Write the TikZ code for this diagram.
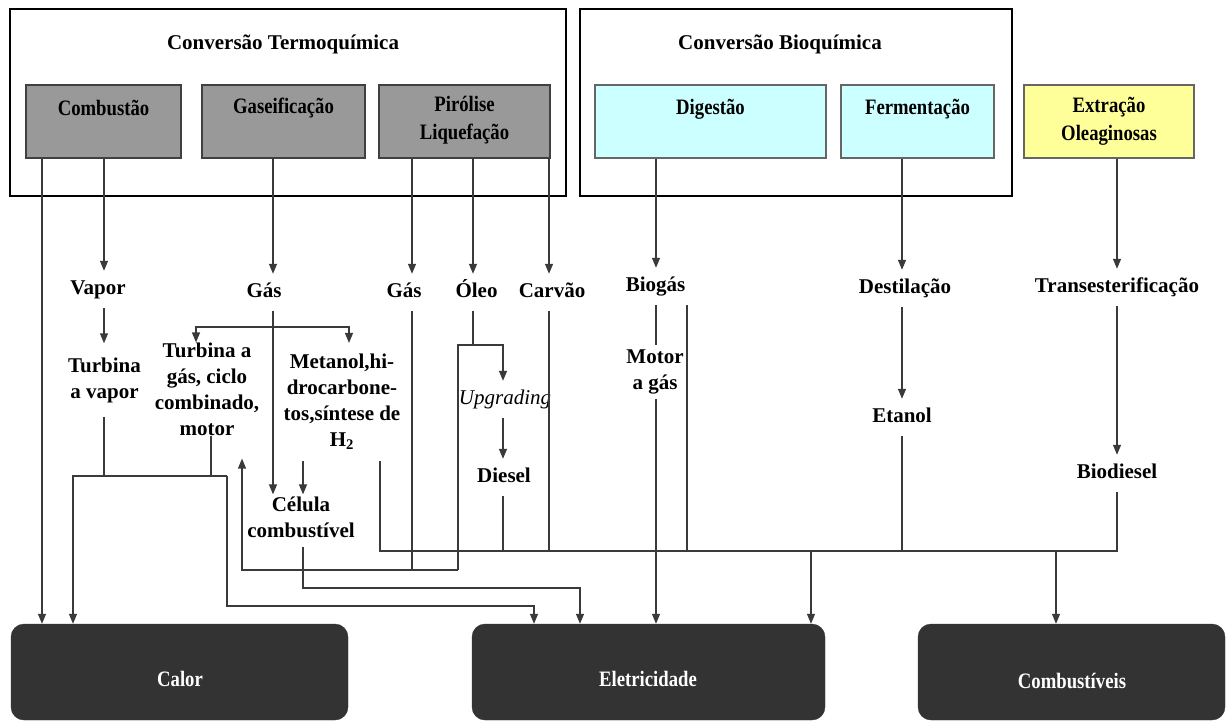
\documentclass[tikz,border=0pt]{standalone}
\usepackage{fontspec}
\setmainfont{Liberation Serif}
\newfontfamily\narrowserif[FakeStretch=0.85]{Liberation Serif}
\usetikzlibrary{arrows.meta}
\definecolor{procgray}{HTML}{999999}
\definecolor{biocyan}{HTML}{CCFFFF}
\definecolor{oilyellow}{HTML}{FFFF99}
\definecolor{enddark}{HTML}{333333}
\definecolor{wirecol}{HTML}{3A3A3A}

\begin{document}
\begin{tikzpicture}[x=1pt,y=-1pt,
  groupbox/.style={draw=black, line width=1.8pt, inner sep=0},
  procbox/.style={draw=black!75, line width=1.3pt, inner sep=0, minimum height=73pt},
  endbox/.style={fill=enddark, draw=enddark, rounded corners=13pt, inner sep=0, minimum height=96pt},
  grouptitle/.style={font=\fontsize{21}{26}\selectfont\bfseries, inner sep=0},
  boxlabel/.style={font=\narrowserif\fontsize{22}{28}\selectfont\bfseries, align=center, inner sep=0},
  endlabel/.style={font=\narrowserif\fontsize{22}{28}\selectfont\bfseries, text=white, inner sep=0},
  stage/.style={font=\fontsize{21}{26}\selectfont\bfseries, anchor=base, text height=14pt, text depth=5pt, inner xsep=1pt, inner ysep=9pt},
  stagelines/.style={font=\fontsize{21}{26}\selectfont\bfseries, align=center, inner xsep=1pt},
  wire/.style={draw=wirecol, line width=1.2pt},
  flow/.style={wire, -{Triangle[length=10pt,width=8pt]}},
]
\useasboundingbox (0,0) rectangle (1228,722);

% column positions of the vertical connectors
\foreach \cx in {42,104,196,211,273,303,349,412,473,503,549,656,687,811,902,1056,1117}
  {\coordinate (c\cx) at (\cx,0);}

% group frames
\node[groupbox, minimum width=556pt, minimum height=187pt] (termo) at (288,102.5) {};
\node[groupbox, minimum width=432pt, minimum height=187pt] (bio) at (796,102.5) {};
\node[grouptitle] (termoT) at (283,44) {Conversão Termoquímica};
\node[grouptitle] (bioT) at (780,44) {Conversão Bioquímica};

% conversion processes
\node[procbox, fill=procgray, minimum width=155pt] (comb) at (103.5,121.5) {};
\node[procbox, fill=procgray, minimum width=163pt] (gasif) at (283.5,121.5) {};
\node[procbox, fill=procgray, minimum width=171pt] (piro) at (464.5,121.5) {};
\node[procbox, fill=biocyan, draw=black!60, minimum width=231pt] (dig) at (710.5,121.5) {};
\node[procbox, fill=biocyan, draw=black!60, minimum width=153pt] (ferm) at (917.5,121.5) {};
\node[procbox, fill=oilyellow, draw=black!60, minimum width=170pt] (extr) at (1109,121.5) {};

\node[boxlabel] (combL) at (103.5,108) {Combustão};
\node[boxlabel] (gasifL) at (283.5,108) {Gaseificação};
\node[boxlabel] (piroL) at (464.5,120) {Pirólise\\Liquefação};
\node[boxlabel] (digL) at (710.5,109) {Digestão};
\node[boxlabel] (fermL) at (917.5,109) {Fermentação};
\node[boxlabel] (extrL) at (1109,121) {Extração\\Oleaginosas};

% final products
\node[endbox, minimum width=337pt] (calor) at (179.5,672) {};
\node[endbox, minimum width=353pt] (elec) at (648.5,672) {};
\node[endbox, minimum width=307pt] (fuel) at (1071.5,672) {};
\node[endlabel] (calorL) at (180,679) {Calor};
\node[endlabel] (elecL) at (648,679) {Eletricidade};
\node[endlabel] (fuelL) at (1072,681) {Combustíveis};

% intermediate products and routes
\node[stage] (vapor) at (98,294) {Vapor};
\node[stage] (gasA) at (264,297) {Gás};
\node[stage] (gasB) at (404,297) {Gás};
\node[stage] (oleo) at (476.5,297) {Óleo};
\node[stage] (carvao) at (552,297) {Carvão};
\node[stage] (biogas) at (655.5,291) {Biogás};
\node[stage] (destil) at (905,293) {Destilação};
\node[stage] (trans) at (1117,292) {Transesterificação};
\node[stage, font=\fontsize{21}{26}\selectfont\itshape] (upgr) at (505,404) {Upgrading};
\node[stage] (diesel) at (504,482) {Diesel};
\node[stage] (etanol) at (902,422) {Etanol};
\node[stage] (biodiesel) at (1117,478) {Biodiesel};

\node[stagelines, inner ysep=14pt] (turbvap) at (104.5,380) {Turbina\\a vapor};
\node[stagelines, inner ysep=0pt] (turbgas) at (207,389) {Turbina a\\gás, ciclo\\combinado,\\motor};
\node[stagelines, inner ysep=11pt] (metanol) at (342,402) {Metanol,hi-\\drocarbone-\\tos,síntese de\\H\textsubscript{2}};
\node[stagelines, inner ysep=2pt] (celula) at (301,517) {Célula\\combustível};
\node[stagelines, inner ysep=5pt] (motor) at (655,372) {Motor\\a gás};

% junction points of the routing
\coordinate (fork) at (273,327);
\coordinate (jL) at (73,476);
\coordinate (jR) at (227,476);
\coordinate (e1) at (534,606);
\coordinate (u1) at (242,570);
\coordinate (u2) at (458,570);
\coordinate (oL) at (458,345);
\coordinate (oR) at (503,345);
\coordinate (bL) at (380,551);
\coordinate (bR) at (1117,551);
\coordinate (e2) at (580,588);

% first level
\draw[flow] (comb.south -| c42) -- (calor.north -| c42);
\draw[flow] (comb.south -| c104) -- (vapor.north -| c104);
\draw[flow] (gasif.south -| c273) -- (gasA.north -| c273);
\draw[flow] (piro.south -| c412) -- (gasB.north -| c412);
\draw[flow] (piro.south -| c473) -- (oleo.north -| c473);
\draw[flow] (piro.south -| c549) -- (carvao.north -| c549);
\draw[flow] (dig.south -| c656) -- (biogas.north -| c656);
\draw[flow] (ferm.south -| c902) -- (destil.north -| c902);
\draw[flow] (extr.south -| c1117) -- (trans.north -| c1117);

% steam route
\draw[flow] (vapor.south -| c104) -- (turbvap.north -| c104);
\draw[wire] (turbvap.south -| c104) -- (jL -| c104);

% gasification routes
\draw[flow] (gasA.south -| c273) -- (celula.north -| c273);
\draw[flow] (fork) -| (turbgas.north -| c196);
\draw[flow] (fork) -| (metanol.north -| c349);
\draw[wire] (turbgas.south -| c211) -- (jL -| c211);
\draw[flow] (jR) -- (jL) -- (calor.north -| jL);
\draw[flow] (jR) |- (e1) -- (elec.north -| e1);
\draw[flow] (metanol.south -| c303) -- (celula.north -| c303);
\draw[flow, shorten <=7pt] (celula.south -| c303) |- (e2) -- (elec.north -| e2);

% pyrolysis routes
\draw[wire] (gasB.south -| c412) -- (u1 -| c412);
\draw[flow, shorten >=23pt] (u2) -- (u1) -- (turbgas.south -| u1);
\draw[wire] (oleo.south -| c473) -- (oL -| c473);
\draw[flow] (u2) -- (oL) -- (oR) -- (upgr.north -| oR);
\draw[flow] (upgr.south -| c503) -- (diesel.north -| c503);

% biochemical and oil routes
\draw[wire] (biogas.south -| c656) -- (motor.north -| c656);
\draw[flow] (motor.south -| c656) -- (elec.north -| c656);
\draw[flow] (destil.south -| c902) -- (etanol.north -| c902);
\draw[flow] (trans.south -| c1117) -- (biodiesel.north -| c1117);

% collecting line
\draw[wire] (metanol.south -| bL) -- (bL) -- (bR) -- (biodiesel.south -| bR);
\draw[wire] (diesel.south -| c503) -- (bL -| c503);
\draw[wire] (carvao.south -| c549) -- (bL -| c549);
\draw[wire] (biogas.south -| c687) -- (bL -| c687);
\draw[wire] (etanol.south -| c902) -- (bL -| c902);
\draw[flow] (bL -| c811) -- (elec.north -| c811);
\draw[flow] (bL -| c1056) -- (fuel.north -| c1056);
\end{tikzpicture}
\end{document}
